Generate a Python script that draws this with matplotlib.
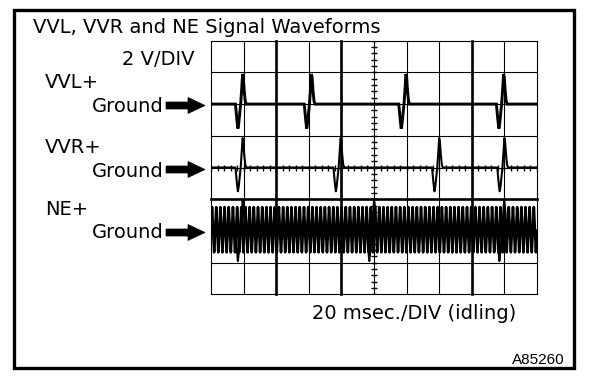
import numpy as np
import matplotlib
matplotlib.use("Agg")
import matplotlib.pyplot as plt
from matplotlib.patches import Polygon, Rectangle

# ---------------- data ----------------
ms_per_div = 20            # 20 msec./DIV
volts_per_div = 2          # 2 V/DIV
n_time_divs = 10
n_volt_divs = 8

# ground levels of each channel on screen (in volts from the bottom edge)
vvl_ground_v = 12
vvr_ground_v = 8
ne_ground_v = 4

# VVL / VVR pulse zero-crossing times (ms from left edge)
vvl_pulse_times_ms = [18.2, 60.4, 118.4, 178.3]
vvr_pulse_times_ms = [18.2, 78.3, 138.8, 178.8]

# shape of one cam-sensor pulse (time offset ms, volts)
pulse_shape_t_ms = [-3.2, -2.3, -1.7, -1.2, -0.5, 0.0, 0.6, 1.2, 1.6, 2.2, 2.8, 3.4]
vvl_pulse_v = [0.0, -1.0, -1.55, -1.25, -0.5, 0.0, 0.9, 1.9, 1.7, 0.8, 0.2, 0.0]
vvr_pulse_v = [0.0, -1.0, -1.5, -1.2, -0.5, 0.0, 0.9, 1.85, 1.65, 0.8, 0.2, 0.0]

# NE crank signal: number of teeth on screen and peak voltages
ne_tooth_count = 78
ne_peak_pos_v = 1.5
ne_peak_neg_v = -1.35
# NE extra spikes (ms) and their peak voltages
ne_spike_times_ms = [18.2, 98.8, 178.6]
ne_spike_v = [0.0, -1.2, -1.9, -1.4, -0.5, 0.0, 0.9, 1.95, 1.7, 0.8, 0.2, 0.0]

# ---------------- figure ----------------
W, H = 608, 378
fig = plt.figure(figsize=(W / 100, H / 100), dpi=100)
fig.patch.set_facecolor("white")


def fx(px):
    return px / W


def fy(py):
    return 1 - py / H


# scope screen area (pixels)
gx0, gx1, gy0, gy1 = 211, 537, 40.7, 294.3
ax = fig.add_axes([fx(gx0), fy(gy1), (gx1 - gx0) / W, (gy1 - gy0) / H])
ax.set_xlim(0, ms_per_div * n_time_divs)
ax.set_ylim(0, volts_per_div * n_volt_divs)
ax.axis("off")

# grid
thick_v = {2, 4, 8}
for i in range(n_time_divs + 1):
    ax.axvline(i * ms_per_div, color="black", lw=1.9 if i in thick_v else 0.8,
               clip_on=False, zorder=1)
thick_h = {3}
for j in range(n_volt_divs + 1):
    ax.axhline(j * volts_per_div, color="black", lw=1.9 if j in thick_h else 0.8,
               clip_on=False, zorder=1)

# centre crosshair minor ticks
cx = ms_per_div * n_time_divs / 2
cy = volts_per_div * n_volt_divs / 2
tt = np.arange(0, ms_per_div * n_time_divs + 0.01, ms_per_div / 5)
ax.plot(tt, np.full_like(tt, cy), ls="none", marker="|", ms=5, mew=1.0,
        color="black", zorder=2)
vv = np.arange(0, volts_per_div * n_volt_divs + 0.01, volts_per_div / 5)
ax.plot(np.full_like(vv, cx), vv, ls="none", marker="_", ms=5, mew=1.0,
        color="black", zorder=2)


def pulse_trace(times, shape_t, shape_v, ground):
    ts, ys = [0.0], [0.0]
    for p in times:
        ts.extend(p + np.array(shape_t))
        ys.extend(shape_v)
    ts.append(ms_per_div * n_time_divs)
    ys.append(0.0)
    return np.array(ts), np.array(ys) + ground


t, y = pulse_trace(vvl_pulse_times_ms, pulse_shape_t_ms, vvl_pulse_v, vvl_ground_v)
ax.plot(t, y, color="black", lw=2.1, zorder=3, solid_joinstyle="miter")

t, y = pulse_trace(vvr_pulse_times_ms, pulse_shape_t_ms, vvr_pulse_v, vvr_ground_v)
ax.plot(t, y, color="black", lw=1.5, zorder=3)

# NE zig-zag
period = ms_per_div * n_time_divs / ne_tooth_count
nt, nv = [], []
for k in range(ne_tooth_count):
    t0 = k * period
    nt += [t0, t0 + 0.25 * period, t0 + 0.5 * period, t0 + 0.75 * period]
    nv += [0.0, ne_peak_pos_v, 0.0, ne_peak_neg_v]
nt.append(ms_per_div * n_time_divs)
nv.append(0.0)
ax.plot(nt, np.array(nv) + ne_ground_v, color="black", lw=1.9, zorder=3)
for p in ne_spike_times_ms:
    ax.plot(p + np.array(pulse_shape_t_ms), np.array(ne_spike_v) + ne_ground_v,
            color="black", lw=1.5, zorder=4)

# ---------------- labels ----------------
fam = ["DejaVu Sans"]
fs = 14
fig.text(fx(33), fy(33.3), "VVL, VVR and NE Signal Waveforms", family=fam,
         fontsize=fs, ha="left", va="baseline")
fig.text(fx(195), fy(65), "2 V/DIV", family=fam, fontsize=fs, ha="right", va="baseline")
fig.text(fx(45), fy(88.3), "VVL+", family=fam, fontsize=fs, ha="left", va="baseline")
fig.text(fx(45), fy(153.3), "VVR+", family=fam, fontsize=fs, ha="left", va="baseline")
fig.text(fx(45), fy(215), "NE+", family=fam, fontsize=fs, ha="left", va="baseline")
for base, gy in [(111.7, 105.5), (176.7, 169.5), (238.3, 232.5)]:
    fig.text(fx(163.3), fy(base), "Ground", family=fam, fontsize=fs,
             ha="right", va="baseline")
    pts = [(166, gy - 3.5), (188, gy - 3.5), (188, gy - 8), (205, gy),
           (188, gy + 8), (188, gy + 3.5), (166, gy + 3.5)]
    fig.add_artist(Polygon([(fx(a), fy(b)) for a, b in pts], closed=True,
                           transform=fig.transFigure, facecolor="black",
                           edgecolor="black", lw=0.5))
fig.text(fx(516.7), fy(319.3), "20 msec./DIV (idling)", family=fam, fontsize=fs,
         ha="right", va="baseline")
fig.text(fx(565), fy(364), "A85260", family=["Liberation Sans"], fontsize=11,
         ha="right", va="baseline")

# outer frame
fig.add_artist(Rectangle((fx(13.5), fy(368)), (574 - 13.5) / W, (368 - 9.5) / H,
                         transform=fig.transFigure, fill=False, edgecolor="black",
                         lw=2.4))

fig.savefig("out.png", dpi=100)
